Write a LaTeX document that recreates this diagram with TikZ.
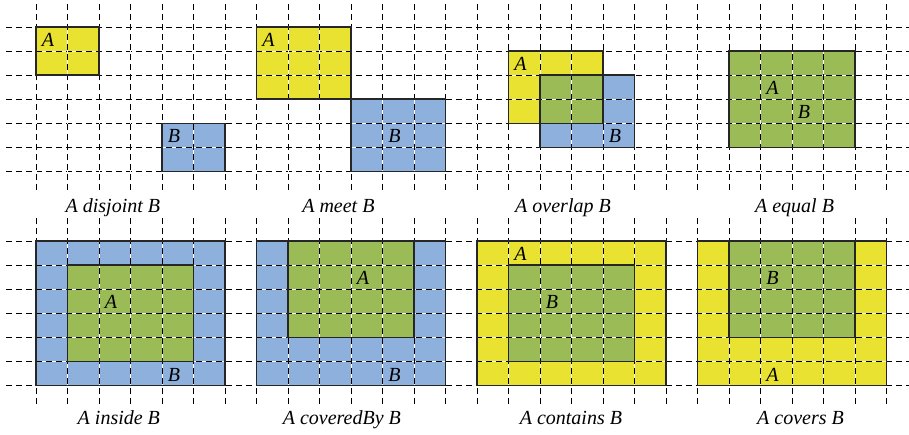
\documentclass[tikz,border=0pt]{standalone}
\usepackage{fontspec}
\setmainfont{Liberation Serif}
\usepackage{tikz}
\usetikzlibrary{backgrounds}
\definecolor{regyellow}{RGB}{233,226,48}
\definecolor{regblue}{RGB}{141,176,220}
\definecolor{reggreen}{RGB}{155,187,87}
\tikzset{
  gridline/.style={draw=black, line width=0.5pt, dash pattern=on 3pt off 2pt,
                   preaction={draw=white, solid}},
  edge/.style={draw=black!85, line width=0.7pt},
  tag/.style={font=\itshape, inner sep=0pt, anchor=base west},
  caption/.style={font=\itshape, inner sep=0pt, anchor=base},
}
\begin{document}
\begin{tikzpicture}[x=15.75pt, y=-12.025pt]
  \useasboundingbox (-1.143,-1.123) rectangle (27.714,16.923);

  % dashed grid, two rows of four panels
  \foreach \r in {0,8.9} {
    \foreach \j in {0,...,6}
      \draw[gridline] (-0.95,\r+\j) -- (27.72,\r+\j);
    \foreach \k in {0,7,14,21}
      \foreach \i in {0,...,6}
        \draw[gridline] (\k+\i,\r-0.95) -- (\k+\i,\r+6.85);
  }

  % A disjoint B
  \begin{scope}[shift={(0,0)}]
    \begin{scope}[on background layer]
      \fill[regyellow] (0,0) rectangle (2,2);
      \fill[regblue] (4,4) rectangle (6,6);
    \end{scope}
    \draw[edge] (0,0) rectangle (2,2) (4,4) rectangle (6,6);
    \node[tag] (a1) at (0.17,0.82) {A};
    \node[tag] (b1) at (4.17,4.82) {B};
    \node[caption] (cap1) at (2.44,7.73) {A disjoint B};
  \end{scope}

  % A meet B
  \begin{scope}[shift={(7,0)}]
    \begin{scope}[on background layer]
      \fill[regyellow] (0,0) rectangle (3,3);
      \fill[regblue] (3,3) rectangle (6,6);
    \end{scope}
    \draw[edge] (0,0) rectangle (3,3) (3,3) rectangle (6,6);
    \node[tag] (a2) at (0.17,0.82) {A};
    \node[tag] (b2) at (4.17,4.82) {B};
    \node[caption] (cap2) at (2.6,7.73) {A meet B};
  \end{scope}

  % A overlap B
  \begin{scope}[shift={(14,0)}]
    \begin{scope}[on background layer]
      \fill[regyellow] (1,1) rectangle (4,4);
      \fill[regblue] (2,2) rectangle (5,5);
      \fill[reggreen] (2,2) rectangle (4,4);
    \end{scope}
    \draw[edge] (1,1) rectangle (4,4) (2,2) rectangle (5,5);
    \node[tag] (a3) at (1.17,1.82) {A};
    \node[tag] (b3) at (4.17,4.82) {B};
    \node[caption] (cap3) at (2.73,7.73) {A overlap B};
  \end{scope}

  % A equal B
  \begin{scope}[shift={(21,0)}]
    \begin{scope}[on background layer]
      \fill[reggreen] (1,1) rectangle (5,5);
    \end{scope}
    \draw[edge] (1,1) rectangle (5,5);
    \node[tag] (a4) at (2.17,2.82) {A};
    \node[tag] (b4) at (3.17,3.82) {B};
    \node[caption] (cap4) at (3.08,7.73) {A equal B};
  \end{scope}

  % A inside B
  \begin{scope}[shift={(0,8.9)}]
    \begin{scope}[on background layer]
      \fill[regblue] (0,0) rectangle (6,6);
      \fill[reggreen] (1,1) rectangle (5,5);
    \end{scope}
    \draw[edge] (0,0) rectangle (6,6) (1,1) rectangle (5,5);
    \node[tag] (a5) at (2.17,2.82) {A};
    \node[tag] (b5) at (4.17,5.82) {B};
    \node[caption] (cap5) at (2.63,7.61) {A inside B};
  \end{scope}

  % A coveredBy B
  \begin{scope}[shift={(7,8.9)}]
    \begin{scope}[on background layer]
      \fill[regblue] (0,0) rectangle (6,6);
      \fill[reggreen] (1,0) rectangle (5,4);
    \end{scope}
    \draw[edge] (0,0) rectangle (6,6) (1,0) rectangle (5,4);
    \node[tag] (a6) at (3.17,1.82) {A};
    \node[tag] (b6) at (4.17,5.82) {B};
    \node[caption] (cap6) at (2.71,7.61) {A coveredBy B};
  \end{scope}

  % A contains B
  \begin{scope}[shift={(14,8.9)}]
    \begin{scope}[on background layer]
      \fill[regyellow] (0,0) rectangle (6,6);
      \fill[reggreen] (1,1) rectangle (5,5);
    \end{scope}
    \draw[edge] (0,0) rectangle (6,6) (1,1) rectangle (5,5);
    \node[tag] (a7) at (1.17,0.82) {A};
    \node[tag] (b7) at (2.17,2.82) {B};
    \node[caption] (cap7) at (2.98,7.61) {A contains B};
  \end{scope}

  % A covers B
  \begin{scope}[shift={(21,8.9)}]
    \begin{scope}[on background layer]
      \fill[regyellow] (0,0) rectangle (6,6);
      \fill[reggreen] (1,0) rectangle (5,4);
    \end{scope}
    \draw[edge] (0,0) rectangle (6,6) (1,0) rectangle (5,4);
    \node[tag] (b8) at (2.17,1.82) {B};
    \node[tag] (a8) at (2.17,5.82) {A};
    \node[caption] (cap8) at (3.27,7.61) {A covers B};
  \end{scope}
\end{tikzpicture}
\end{document}
